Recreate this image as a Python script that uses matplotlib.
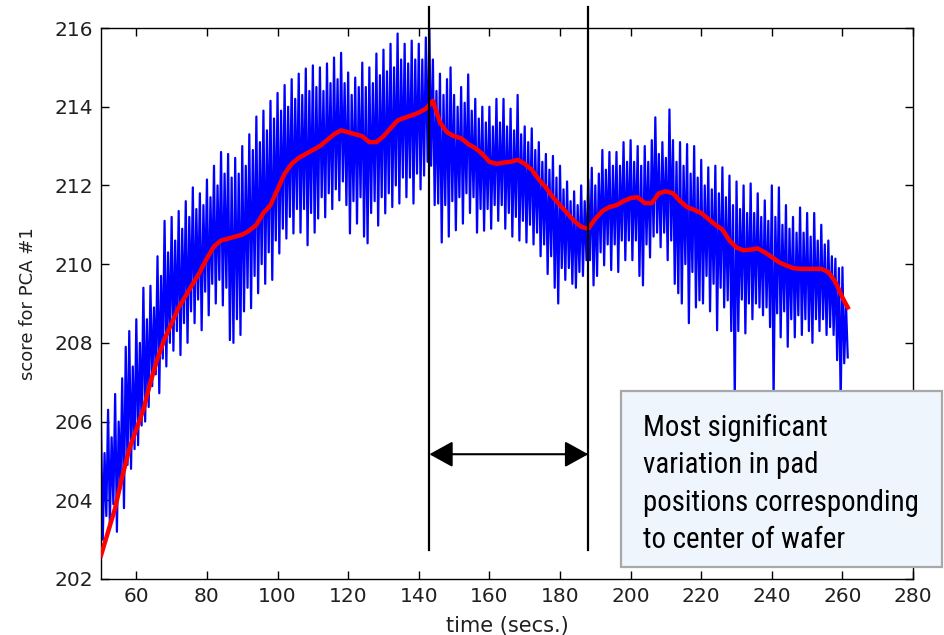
import matplotlib
matplotlib.use("Agg")
import matplotlib.pyplot as plt
import numpy as np
from matplotlib import font_manager
from matplotlib.patches import Rectangle

# raw PCA score: spike tops / bottoms, one pair per second from t=50 to t=261
time_raw = np.arange(50, 262)
score_hi = [
    205.9, 205.2, 206.3, 205.6, 206.7, 206.0, 207.1, 207.9, 208.3, 207.4,
    208.6, 208.0, 209.4, 208.6, 209.45, 208.9, 210.2, 209.7, 211.1, 210.3,
    211.2, 210.6, 211.35, 210.9, 211.6, 211.2, 211.95, 211.4, 211.8, 211.5,
    212.15, 211.7, 212.5, 212.0, 212.85, 212.3, 212.8, 212.2, 212.7, 212.3,
    213.0, 212.5, 213.3, 212.9, 213.75, 213.1, 213.9, 213.4, 214.15, 213.7,
    214.35, 213.9, 214.55, 214.0, 214.7, 214.2, 214.84, 214.3, 214.97, 214.4,
    215.05, 214.5, 215.0, 214.4, 215.1, 214.6, 215.25, 214.7, 215.37, 214.6,
    214.87, 214.3, 214.74, 214.5, 215.12, 214.5, 215.0, 214.6, 215.35, 214.8,
    215.45, 214.9, 215.6, 215.0, 215.86, 215.2, 215.6, 215.1, 215.68, 215.2,
    215.6, 215.2, 215.76, 216.0, 215.2, 214.4, 214.84, 214.3, 214.7, 215.0,
    214.3, 214.0, 214.5, 214.1, 214.82, 213.9, 214.2, 213.7, 214.0, 213.6,
    214.0, 213.5, 214.2, 213.6, 214.2, 213.5, 213.95, 213.4, 214.3, 213.3,
    213.5, 213.1, 213.45, 212.9, 213.1, 212.6, 212.8, 212.4, 212.75, 212.2,
    212.5, 211.9, 212.1, 211.6, 211.85, 211.5, 212.0, 211.6, 212.15, 212.45,
    212.0, 212.3, 212.9, 212.4, 212.85, 212.5, 212.85, 212.5, 213.1, 212.6,
    213.15, 212.6, 213.0, 212.5, 213.0, 212.6, 213.15, 213.73, 212.8, 213.1,
    212.7, 213.93, 213.15, 212.6, 213.1, 212.5, 213.05, 212.3, 213.0, 212.2,
    212.65, 212.0, 212.46, 211.9, 212.5, 211.8, 212.46, 211.7, 212.25, 211.5,
    212.1, 211.4, 212.0, 211.3, 212.05, 211.3, 211.8, 211.2, 211.62, 211.1,
    212.0, 211.2, 211.95, 211.0, 211.5, 210.9, 211.2, 210.8, 211.44, 210.8,
    211.3, 210.7, 211.3, 210.6, 211.0, 210.5, 210.6, 210.2, 210.14, 209.9,
    209.92, 209.0,
]
score_lo = [
    203.0, 203.6, 203.4, 203.9, 203.2, 204.3, 203.8, 204.9, 204.8, 205.3,
    205.4, 205.9, 206.0, 206.37, 206.9, 207.2, 206.72, 207.6, 207.4, 208.0,
    207.8, 208.3, 207.69, 208.5, 208.0, 208.8, 208.5, 209.1, 208.32, 209.3,
    208.7, 209.5, 209.0, 209.6, 208.95, 209.4, 208.07, 208.0, 208.6, 208.2,
    208.8, 209.4, 208.88, 209.7, 209.26, 210.0, 209.5, 210.3, 209.6, 210.6,
    210.27, 210.9, 210.65, 211.2, 210.78, 211.4, 210.8, 211.4, 210.48, 211.3,
    210.8, 211.16, 211.7, 211.19, 211.8, 211.4, 211.9, 211.62, 212.1, 211.5,
    210.78, 211.6, 211.03, 211.7, 210.7, 210.53, 211.3, 211.6, 210.98, 211.7,
    211.29, 211.8, 211.45, 212.0, 211.54, 212.2, 211.7, 212.2, 211.54, 212.3,
    211.9, 212.25, 212.6, 212.5, 211.5, 211.54, 210.55, 211.5, 210.7, 211.6,
    210.86, 211.7, 211.03, 211.8, 211.3, 211.7, 210.8, 211.4, 210.85, 211.4,
    210.9, 211.5, 211.1, 211.5, 210.9, 211.3, 210.7, 211.2, 210.6, 211.1,
    210.55, 211.0, 210.5, 210.8, 210.2, 210.5, 209.75, 210.2, 209.4, 209.0,
    209.9, 209.6, 209.9, 209.5, 209.4, 209.8, 209.7, 210.1, 210.1, 209.46,
    209.7, 210.3, 209.97, 210.5, 209.85, 210.5, 209.8, 210.6, 210.1, 210.6,
    210.1, 210.6, 209.7, 209.46, 210.5, 210.17, 210.7, 210.8, 210.43, 210.8,
    210.1, 210.6, 209.5, 209.26, 209.0, 210.0, 208.5, 209.8, 208.9, 209.08,
    209.0, 209.7, 208.8, 209.5, 208.32, 209.4, 208.9, 209.08, 208.3, 206.5,
    208.3, 209.1, 208.24, 209.0, 208.6, 209.0, 208.9, 208.7, 208.9, 208.4,
    206.5, 208.75, 208.14, 208.8, 207.9, 208.6, 208.14, 208.7, 208.2, 208.6,
    208.3, 208.0, 208.6, 208.3, 208.6, 208.2, 208.4, 208.2, 207.56, 206.5,
    207.48, 207.63,
]

# smoothed score (red), every 2 s plus the last sample
time_smooth = np.append(np.arange(50, 261, 2), 261.5)
score_smooth = [
    202.6, 203.2, 203.8, 204.6, 205.3, 205.8, 206.3, 207.0, 207.6, 208.1,
    208.5, 208.9, 209.2, 209.5, 209.8, 210.15, 210.45, 210.6, 210.65, 210.7,
    210.75, 210.85, 211.0, 211.3, 211.5, 211.9, 212.3, 212.55, 212.7, 212.8,
    212.9, 213.0, 213.15, 213.3, 213.4, 213.35, 213.3, 213.25, 213.1, 213.1,
    213.25, 213.45, 213.65, 213.72, 213.78, 213.85, 213.95, 214.15, 213.6, 213.35,
    213.25, 213.2, 213.05, 212.95, 212.8, 212.6, 212.55, 212.58, 212.6, 212.65,
    212.55, 212.4, 212.15, 211.95, 211.7, 211.5, 211.3, 211.1, 210.95, 210.9,
    211.15, 211.35, 211.45, 211.5, 211.6, 211.68, 211.7, 211.55, 211.55, 211.8,
    211.85, 211.8, 211.6, 211.45, 211.38, 211.3, 211.15, 211.0, 210.88, 210.6,
    210.42, 210.35, 210.37, 210.4, 210.3, 210.18, 210.05, 209.97, 209.9, 209.88,
    209.88, 209.88, 209.88, 209.8, 209.55, 209.15, 208.9,
]

# window of the wafer centre
window_start, window_end = 143, 188
note = "Most significant\nvariation in pad\npositions corresponding\nto center of wafer"

# interleave tops and bottoms into one trace
x_raw = np.empty(2 * len(time_raw))
y_raw = np.empty(2 * len(time_raw))
x_raw[0::2] = time_raw
x_raw[1::2] = time_raw + 0.5
y_raw[0::2] = score_hi
y_raw[1::2] = score_lo

fig = plt.figure(figsize=(9.45, 6.35), dpi=100)
ax = fig.add_axes([0.1069, 0.0882, 0.8593, 0.8677])

ax.plot(x_raw, y_raw, color="#0000ff", linewidth=1.6, zorder=2)
ax.plot(time_smooth, score_smooth, color="#ff0000", linewidth=3.2, zorder=3)

for xv in (window_start, window_end):
    ax.plot([xv, xv], [202.74, 216.53], color="black", linewidth=1.6,
            clip_on=False, zorder=4)

ax.annotate("", xy=(window_start, 205.17), xytext=(window_end, 205.17),
            arrowprops=dict(arrowstyle="<|-|>,head_length=1.45,head_width=0.8",
                            mutation_scale=10, color="black", linewidth=1.5,
                            shrinkA=0, shrinkB=0),
            zorder=5)

ax.set_xlim(50, 280)
ax.set_ylim(202, 216)
ax.set_xticks(np.arange(60, 281, 20))
ax.set_yticks(np.arange(202, 217, 2))
ax.tick_params(direction="in", top=True, right=True, length=6, width=1,
               labelsize=14.5, labelcolor="#202020", pad=6)
for s in ax.spines.values():
    s.set_linewidth(1.0)
ax.set_xlabel("time (secs.)", fontsize=15, color="#202020", labelpad=7)
ax.set_ylabel("score for PCA #1", fontsize=13, color="#202020", labelpad=12)

# note box, drawn on the figure so it can run past the right spine
box = Rectangle((621 / 945, 1 - 567 / 635), 321 / 945, 176 / 635,
                transform=fig.transFigure, facecolor="#eef5fd",
                edgecolor="#a8a8a8", linewidth=1.6, zorder=6)
fig.patches.append(box)

# a narrow face if one is installed, else plain Liberation Sans
installed = {f.name for f in font_manager.fontManager.ttflist}
note_family = "Liberation Sans"
for cand in ["Liberation Sans Narrow", "Arial Narrow", "Roboto Condensed",
             "DejaVu Sans Condensed"]:
    if cand in installed:
        note_family = cand
        break

# baseline of the last line sits at ~548 px from the top
note_text = fig.text(643 / 945, 1 - 548 / 635, note, ha="left", va="baseline",
                     fontsize=20, family=note_family, color="black",
                     linespacing=1.2, zorder=7)

# fit widest line to ~275 px and line pitch to ~38.5 px, as in the source
fig.canvas.draw()
renderer = fig.canvas.get_renderer()
probe = fig.text(0, 0, "positions corresponding", fontsize=20, family=note_family)
w = probe.get_window_extent(renderer).width
size = 20 * 275 / w
probe.set_fontsize(size)
one_line = probe.get_window_extent(renderer).height
probe.remove()
note_text.set_fontsize(size)
four_lines = note_text.get_window_extent(renderer).height
pitch = (four_lines - one_line) / 3
note_text.set_linespacing(1.2 * 38.5 / pitch)

fig.savefig("out.png", dpi=100)
